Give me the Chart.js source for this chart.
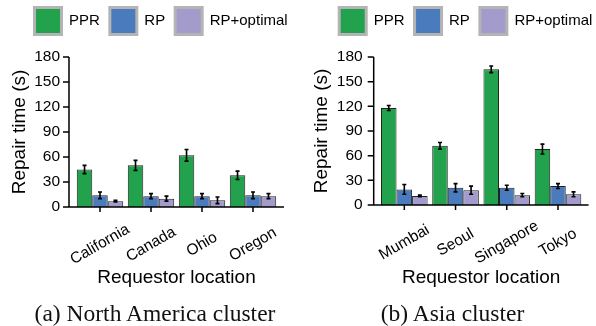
<!DOCTYPE html>
<html>
<head>
<meta charset="utf-8">
<script src="https://cdn.jsdelivr.net/npm/chart.js@4.4.0/dist/chart.umd.min.js"></script>
<style>
html, body { margin: 0; padding: 0; background: #fff; }
#wrap { position: relative; width: 596px; height: 326px; overflow: hidden; }
.panel { position: absolute; top: 0; width: 298px; height: 326px; }
.cap { position: absolute; top: 302px; font-family: "Liberation Serif", "Times New Roman", serif;
       font-size: 23.5px; line-height: 1; text-align: center; color: #111; white-space: nowrap; }
</style>
</head>
<body>
<div id="wrap">
  <div class="panel" style="left:0"><canvas id="na" width="298" height="326"></canvas></div>
  <div class="panel" style="left:298px"><canvas id="asia" width="298" height="326"></canvas></div>
  <div class="cap" style="left:0;width:310px">(a) North America cluster</div>
  <div class="cap" style="left:298px;width:309px">(b) Asia cluster</div>
</div>
<script>
var seriesNames = ['PPR', 'RP', 'RP+optimal'];
var seriesColors = ['#23a24d', '#4a7cbd', '#a39bcc'];
var yTicks = [0, 30, 60, 90, 120, 150, 180];

// North America
var naLabels = ['California', 'Canada', 'Ohio', 'Oregon'];
var naPPR = [45, 50, 62, 38];
var naPPRErr = [5, 6, 7, 5];
var naRP = [14, 13, 13, 14];
var naRPErr = [4, 3, 3, 4];
var naOpt = [7, 10, 8, 13];
var naOptErr = [1, 3, 4, 3];

// Asia
var asLabels = ['Mumbai', 'Seoul', 'Singapore', 'Tokyo'];
var asPPR = [118, 72, 165, 68];
var asPPRErr = [3, 4, 4, 6];
var asRP = [19, 21, 21, 23];
var asRPErr = [6, 5, 3, 3];
var asOpt = [11, 18, 12, 13];
var asOptErr = [1, 5, 2, 3];

Chart.defaults.font.family = '"Liberation Sans", Arial, Helvetica, sans-serif';
Chart.defaults.color = '#000';

// axes lines, tick marks, rotated labels, error bars, legend placement
var decor = {
  id: 'decor',
  afterLayout: function (chart, args, opts) {
    var lg = chart.legend;
    var pad = lg.options.labels.padding;
    var dx = opts.legendX - (lg.left + pad);
    var dy = opts.legendY - (lg.top + pad);
    lg.left += dx; lg.right += dx;
    lg.top += dy; lg.bottom += dy;
  },
  afterDatasetsDraw: function (chart) {
    var ctx = chart.ctx, y = chart.scales.y;
    ctx.save();
    ctx.strokeStyle = '#000';
    ctx.lineWidth = 1.6;
    chart.data.datasets.forEach(function (ds, i) {
      chart.getDatasetMeta(i).data.forEach(function (bar, j) {
        var v = ds.data[j], e = ds.errors[j];
        var t = y.getPixelForValue(v + e), b = y.getPixelForValue(v - e);
        ctx.beginPath();
        ctx.moveTo(bar.x, t); ctx.lineTo(bar.x, b);
        ctx.moveTo(bar.x - 2, t); ctx.lineTo(bar.x + 2, t);
        ctx.moveTo(bar.x - 2, b); ctx.lineTo(bar.x + 2, b);
        ctx.stroke();
      });
    });
    ctx.restore();
  },
  afterDraw: function (chart, args, opts) {
    var ctx = chart.ctx, a = chart.chartArea;
    var x = chart.scales.x, y = chart.scales.y;
    var sx = a.left - opts.gap, ex = a.right + opts.gap;
    ctx.save();
    ctx.strokeStyle = '#000';
    ctx.lineWidth = 1.5;
    ctx.beginPath();
    ctx.moveTo(sx, a.top); ctx.lineTo(sx, a.bottom); ctx.lineTo(ex, a.bottom);
    y.ticks.forEach(function (t) {
      var py = y.getPixelForValue(t.value);
      ctx.moveTo(sx - 6, py); ctx.lineTo(sx, py);
    });
    x.ticks.forEach(function (t, i) {
      var px = x.getPixelForTick(i);
      ctx.moveTo(px, a.bottom); ctx.lineTo(px, a.bottom + 5);
    });
    ctx.stroke();
    ctx.font = '15.5px "Liberation Sans", Arial, sans-serif';
    ctx.fillStyle = '#000';
    ctx.textAlign = 'center';
    ctx.textBaseline = 'middle';
    x.ticks.forEach(function (t, i) {
      ctx.save();
      ctx.translate(x.getPixelForTick(i), a.bottom + 37.5);
      ctx.rotate(-Math.PI / 6);
      ctx.fillText(chart.data.labels[i], 0, 0);
      ctx.restore();
    });
    ctx.restore();
  }
};

function buildChart(id, labels, values, errors, p) {
  var datasets = seriesNames.map(function (name, i) {
    return {
      label: name,
      data: values[i],
      errors: errors[i],
      backgroundColor: seriesColors[i],
      borderColor: '#222',
      borderWidth: 1,
      barPercentage: 1,
      categoryPercentage: 0.91
    };
  });
  return new Chart(document.getElementById(id), {
    type: 'bar',
    data: { labels: labels, datasets: datasets },
    plugins: [decor],
    options: {
      responsive: false,
      animation: false,
      layout: { padding: { left: p.padLeft, right: 0, top: 10, bottom: 37 } },
      plugins: {
        tooltip: { enabled: false },
        decor: { gap: p.gap, legendX: p.legendX, legendY: 7.5 },
        legend: {
          position: 'top',
          align: 'start',
          labels: {
            boxWidth: 27,
            boxHeight: 27,
            padding: 10,
            font: { size: 15 },
            color: '#000',
            generateLabels: function (chart) {
              var items = Chart.defaults.plugins.legend.labels.generateLabels(chart);
              items.forEach(function (it) { it.strokeStyle = '#b4b4b4'; it.lineWidth = 3; });
              return items;
            }
          }
        }
      },
      scales: {
        x: {
          grid: { display: false, drawTicks: false },
          border: { display: false },
          ticks: { display: false },
          title: { display: true, text: 'Requestor location', font: { size: 19 }, padding: 0 },
          afterFit: function (s) { s.height = p.xHeight; }
        },
        y: {
          min: 0,
          max: 180,
          grid: { display: false, drawTicks: false },
          border: { display: false },
          ticks: { padding: p.tickPad, font: { size: 15.5 }, autoSkip: false },
          afterBuildTicks: function (s) { s.ticks = yTicks.map(function (v) { return { value: v }; }); },
          title: { display: true, text: 'Repair time (s)', font: { size: 19 }, padding: 0 },
          afterFit: function (s) { s.width = p.yWidth; }
        },
        // empty right-hand spacer so the legend keeps the full width
        yr: {
          position: 'right',
          grid: { display: false, drawTicks: false },
          border: { display: false },
          ticks: { display: false },
          afterFit: function (s) { s.width = p.padRight; }
        }
      }
    }
  });
}

buildChart('na', naLabels, [naPPR, naRP, naOpt], [naPPRErr, naRPErr, naOptErr],
  { padLeft: 8, padRight: 19.5, yWidth: 66.5, tickPad: 14.5, xHeight: 82, gap: 5.5, legendX: 34.5 });
buildChart('asia', asLabels, [asPPR, asRP, asOpt], [asPPRErr, asRPErr, asOptErr],
  { padLeft: 12, padRight: 12.4, yWidth: 68.7, tickPad: 16, xHeight: 84, gap: 5, legendX: 41.2 });
</script>
</body>
</html>
